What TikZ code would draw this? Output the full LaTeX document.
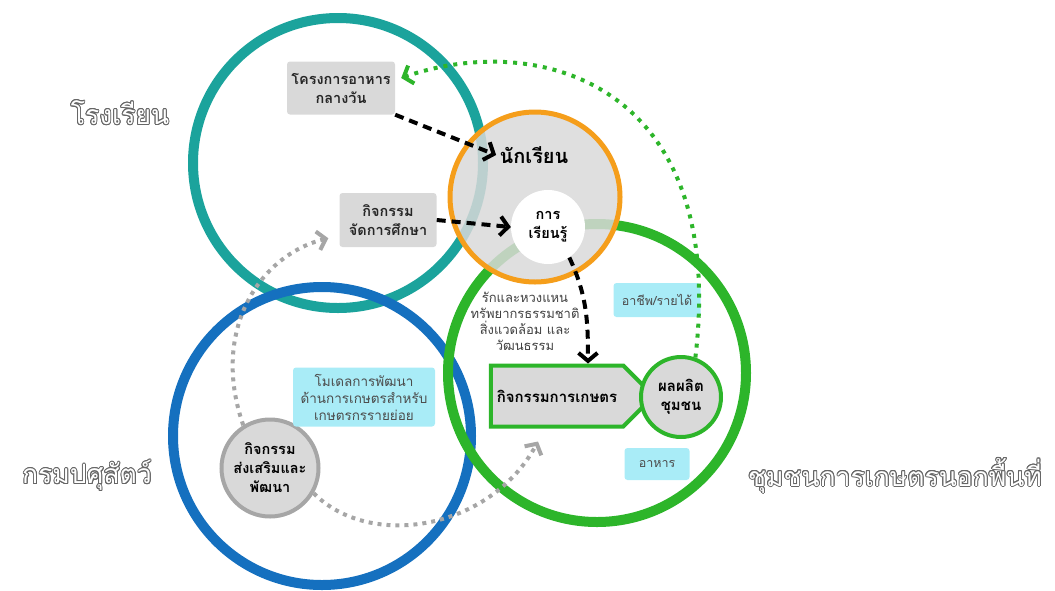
\documentclass[tikz,border=0pt]{standalone}
\usepackage{fontspec}
\newfontfamily\thai[Script=Thai]{Loma}
\usepackage{contour}
\usetikzlibrary{arrows.meta, shapes.geometric, shapes.symbols}

\definecolor{schoolteal}{HTML}{1BA39C}
\definecolor{deptblue}{HTML}{1570BF}
\definecolor{farmgreen}{HTML}{2DB52A}
\definecolor{kidorange}{HTML}{F59E1B}
\definecolor{boxgray}{HTML}{D9D9D9}
\definecolor{notecyan}{HTML}{A9ECF7}
\definecolor{dotgray}{HTML}{A6A6A6}
\contourlength{0.9pt}

\tikzset{
  ring/.style={circle, inner sep=0pt, minimum size=#1},
  graybox/.style={fill=boxgray, rounded corners=3pt, align=center, text=black!85,
    font=\thai\bfseries\fontsize{14.5}{19}\selectfont},
  notebox/.style={fill=notecyan, rounded corners=3pt, align=center, text=black!70,
    font=\thai\fontsize{12.5}{16}\selectfont},
  bigname/.style={text=white, font=\thai\fontsize{26.5}{30}\selectfont},
  dasharrow/.style={line width=4pt, dash pattern=on 9pt off 6pt,
    -{Straight Barb[length=8pt,width=19pt]}},
  dotarrow/.style={dotgray, line width=4pt, dash pattern=on 4pt off 5pt,
    -{Straight Barb[length=8pt,width=19pt]}},
  greendots/.style={farmgreen, line width=4pt, dash pattern=on 4pt off 6pt,
    -{Straight Barb[length=8pt,width=19pt]}}
}

\begin{document}
\begin{tikzpicture}[x=1pt, y=-1pt]
\useasboundingbox (0,0) rectangle (1055,590);

% big circles
\node[ring=290pt, draw=schoolteal, line width=10pt] (school) at (338,163) {};
\node[ring=298pt, draw=deptblue, line width=10pt] (dept) at (322,436) {};
\node[ring=298pt, draw=farmgreen, line width=10pt] (commu) at (597,373) {};
\node[ring=170pt, draw=kidorange, line width=5pt, fill=boxgray, fill opacity=0.85] (student) at (535,197) {};

% group names
\node[bigname] (lschool) at (120,113) {\contour{black!60}{โรงเรียน}};
\node[bigname] (ldept) at (87,476) {\contour{black!60}{กรมปศุสัตว์}};
\node[bigname] (lcommu) at (895,476) {\contour{black!60}{ชุมชนการเกษตรนอกพื้นที่}};

% inside nodes
\node[font=\thai\bfseries\fontsize{20}{24}\selectfont] (studtxt) at (534,155) {นักเรียน};
\node[ring=74pt, fill=white, align=center, font=\thai\bfseries\fontsize{14.5}{19}\selectfont] (learn) at (548,227) {การ\\เรียนรู้};
\node[graybox, minimum width=108pt, minimum height=53pt] (lunch) at (341,88) {โครงการอาหาร\\กลางวัน};
\node[graybox, minimum width=97pt, minimum height=54pt] (edu) at (388,220) {กิจกรรม\\จัดการศึกษา};
\node[ring=97pt, draw=dotgray, line width=4pt, fill=boxgray, align=center,
  font=\thai\bfseries\fontsize{14.5}{19}\selectfont] (promo) at (270,468) {กิจกรรม\\ส่งเสริมและ\\พัฒนา};
\node[notebox, minimum width=142pt, minimum height=59pt, font=\thai\fontsize{13.5}{17}\selectfont] (model) at (364,397) {โมเดลการพัฒนา\\ด้านการเกษตรสำหรับ\\เกษตรกรรายย่อย};
\node[align=center, text=black!75, font=\thai\fontsize{13}{16}\selectfont] (love) at (525,321) {รักและหวงแหน\\ทรัพยากรธรรมชาติ\\สิ่งแวดล้อม และ\\วัฒนธรรม};
\node[notebox, minimum width=87pt, minimum height=34pt] (job) at (657,300) {อาชีพ/รายได้};
\node[notebox, minimum width=65pt, minimum height=32pt] (food) at (657,464) {อาหาร};
\node[signal, signal to=east, signal pointer angle=90, draw=farmgreen, line width=4pt,
  fill=boxgray, minimum height=61pt, inner xsep=6pt, inner ysep=0pt,
  font=\thai\bfseries\fontsize{15}{19}\selectfont] (farm) at (557,396) {กิจกรรมการเกษตร};
\node[ring=80pt, draw=farmgreen, line width=4pt, fill=boxgray, align=center,
  font=\thai\bfseries\fontsize{15}{19}\selectfont] (yield) at (681,397) {ผลผลิต\\ชุมชน};

% arrows
\draw[dasharrow] (lunch.south east) -- (studtxt.west);
\draw[dasharrow] (edu.east) -- (learn.west);
\draw[dasharrow] (learn.-55) to[out=-65, in=90] ([xshift=31pt]farm.north);
\draw[dotarrow] (promo.122) .. controls (210,330) and (260,255) .. ([xshift=-11pt, yshift=9pt]edu.south west);
\draw[dotarrow] (promo.-30) .. controls (370,550) and (490,530) .. ([xshift=-19pt, yshift=-13pt]farm.south);
\draw[greendots] (yield.70) .. controls (728,85) and (540,30) .. ([xshift=6pt, yshift=10pt]lunch.east);
\end{tikzpicture}
\end{document}
